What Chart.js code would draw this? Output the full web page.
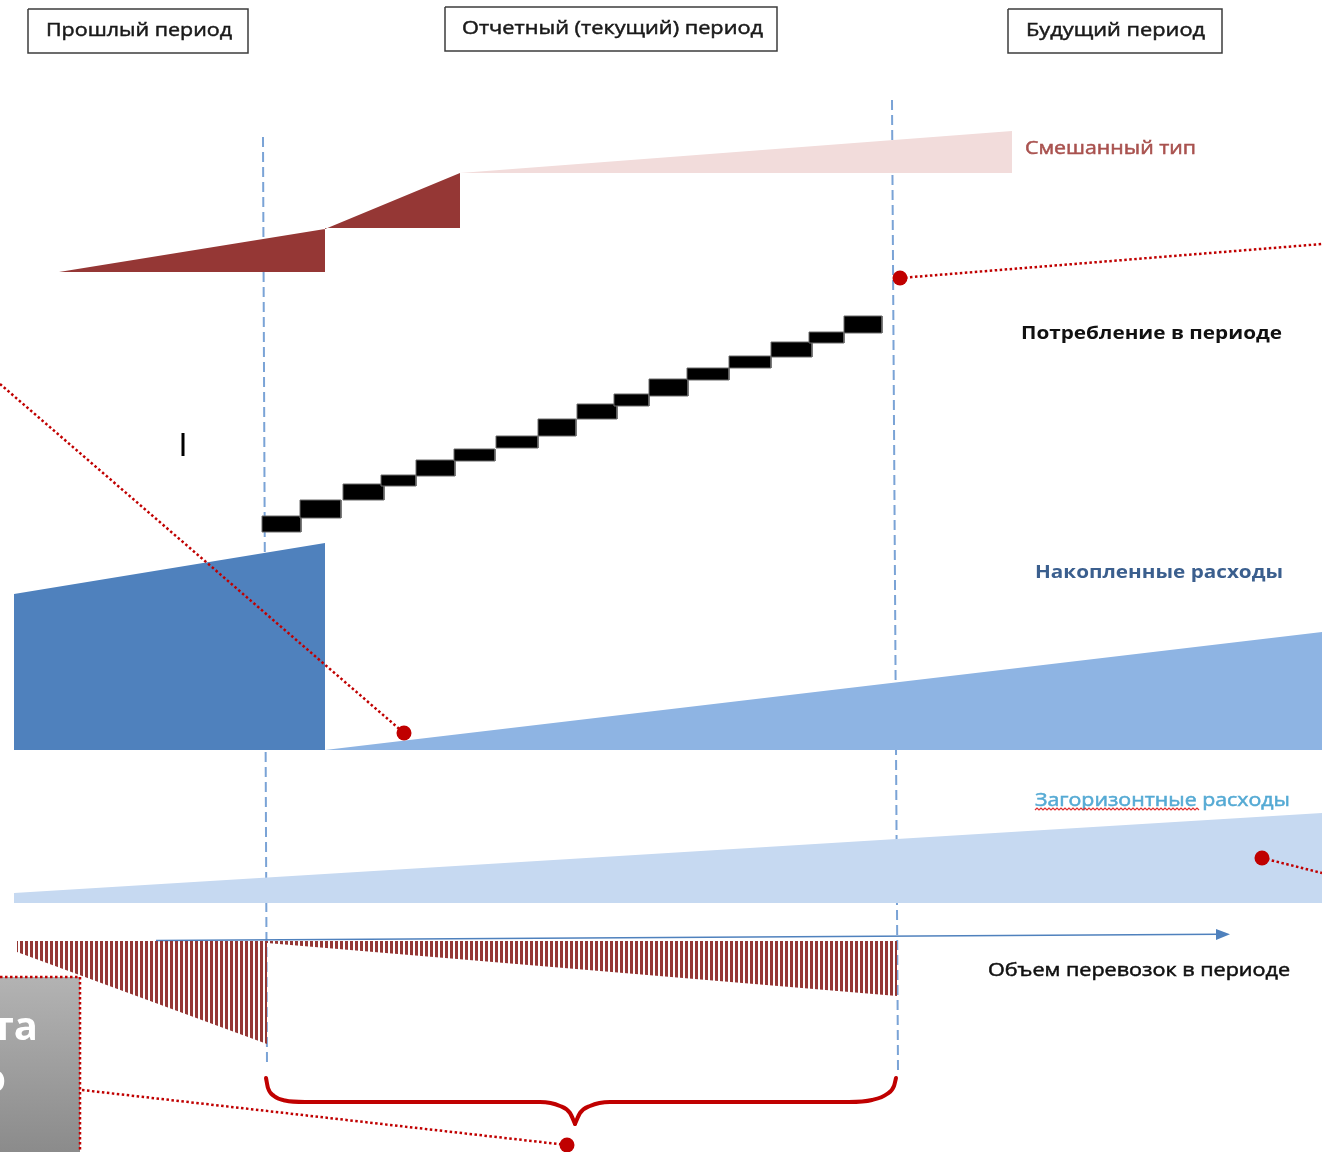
<!DOCTYPE html>
<html lang="ru">
<head>
<meta charset="utf-8">
<title>Периоды учета расходов</title>
<script src="https://cdn.jsdelivr.net/npm/chart.js@4.4.1/dist/chart.umd.min.js"></script>
<style>
  html, body { margin: 0; padding: 0; background: #fff; }
  canvas { display: block; }
</style>
</head>
<body>
<canvas id="periodChart" width="1322" height="1152"></canvas>
<script>
// Sheet units: x runs along the timeline, y runs down the sheet (0 at top)
const X_MAX = 1322;
const Y_MAX = 1152;

// Period boundaries (dashed verticals)
const pastBoundary = [[263, 137], [267, 1065]];
const futureBoundary = [[892, 100], [898, 1070]];

// Mixed type: past part (dark) and future part (pale)
const mixedPast = [[59, 272], [325, 229], [460, 173], [460, 228], [325, 228], [325, 272]];
const mixedFuture = [[460, 173], [1012, 131], [1012, 173]];

// Consumption in the period, one block per step
const stepLeft   = [262, 300, 343, 381, 416, 454, 496, 538, 577, 614, 649, 687, 729, 771, 809, 844];
const stepRight  = [301, 341, 384, 416, 455, 495, 538, 576, 617, 649, 688, 729, 771, 812, 844, 882];
const stepTop    = [516, 500, 484, 475, 460, 449, 436, 419, 404, 394, 379, 368, 356, 342, 332, 316];
const stepBottom = [532, 518, 500, 486, 476, 461, 448, 436, 419, 406, 396, 380, 368, 357, 343, 333];

// Accumulated expenses
const accumPast = [[14, 594], [325, 543], [325, 750], [14, 750]];
const accumFuture = [[325, 750], [1322, 632], [1322, 750]];

// Beyond-horizon expenses
const beyondHorizon = [[14, 893], [1322, 813], [1322, 903], [14, 903]];

// Transport volume (hatched) and its axis
const volumePast = [[17, 941], [267, 941], [267, 1044], [17, 952]];
const volumeCurrent = [[267, 941], [897, 941], [897, 996], [267, 943]];
const volumeAxis = [[156, 940.5], [1218, 934.3]];
const volumeArrow = [[1230, 934.2], [1216, 929], [1216, 940]];

// Brace under the reporting period
const braceLeft = [[266, 1078], [268, 1088], [274, 1096], [285, 1100.5], [305, 1102], [540, 1102],
  [560, 1106], [570, 1113], [575, 1124]];
const braceRight = [[575, 1124], [580, 1113], [590, 1106], [610, 1102], [849, 1102], [872, 1100],
  [887, 1094], [894, 1086], [896, 1078]];

// Callout leaders and their end dots
const leaders = [
  [[0, 384], [404, 733]],
  [[900, 278], [1322, 244]],
  [[1262, 858], [1322, 873]],
  [[82, 1090], [567, 1145]]
];
const leaderDots = [[404, 733], [900, 278], [1262, 858], [567, 1145]];

// Side note panel (mostly off the sheet)
const notePanel = [[-5, 977], [80, 977], [80, 1160], [-5, 1160]];
const notePanelEdge = [[-5, 977], [80, 977], [80, 1160]];

const cursorMark = [[183, 433], [183, 456]];

// Period header frames
const headerPast = [[28, 9], [248, 9], [248, 53], [28, 53]];
const headerCurrent = [[445, 7], [777, 7], [777, 51], [445, 51]];
const headerFuture = [[1008, 9], [1222, 9], [1222, 53], [1008, 53]];

const sheetLabels = [
  { text: 'Прошлый период', x: 46, y: 36, w: 186, size: 19, color: '#1a1a1a' },
  { text: 'Отчетный (текущий) период', x: 462, y: 34, w: 301, size: 19, color: '#1a1a1a' },
  { text: 'Будущий период', x: 1026, y: 36, w: 179, size: 19, color: '#1a1a1a' },
  { text: 'Смешанный тип', x: 1025, y: 154, w: 171, size: 18, color: '#a9524f' },
  { text: 'Потребление в периоде', x: 1021, y: 339, w: 261, size: 18, weight: 'bold', color: '#111111' },
  { text: 'Накопленные расходы', x: 1035, y: 578, w: 248, size: 18, weight: 'bold', color: '#3b5f8e' },
  { text: 'Загоризонтные расходы', x: 1035, y: 806, w: 255, size: 18, color: '#55aad4' },
  { text: 'Объем перевозок в периоде', x: 988, y: 976, w: 302, size: 18, color: '#111111' },
  { text: 'ета', x: 38, y: 1040, size: 40, weight: 'bold', color: '#ffffff', align: 'right' },
  { text: 'о', x: 6, y: 1092, size: 40, weight: 'bold', color: '#ffffff', align: 'right' }
];
const squiggle = { from: 1035, to: 1199, y: 810 };

const canvas = document.getElementById('periodChart');
const mainCtx = canvas.getContext('2d');

const pts = arr => arr.map(([x, y]) => ({ x, y }));
const closed = arr => pts([...arr, arr[0]]);

function area(data, color) {
  return { data: pts(data), backgroundColor: color, borderWidth: 0, fill: 'shape', pointRadius: 0 };
}
function stroke(data, color, width, dash) {
  return { data, borderColor: color, borderWidth: width, borderDash: dash || [], fill: false, pointRadius: 0 };
}

function hatch(color) {
  const c = document.createElement('canvas');
  c.width = 5; c.height = 8;
  const g = c.getContext('2d');
  g.fillStyle = color;
  g.fillRect(0, 0, 3, 8);
  return mainCtx.createPattern(c, 'repeat');
}

// layers listed back to front
const layers = [];
layers.push(stroke(pts(pastBoundary), '#7aa3d6', 2, [10, 5]));
layers.push(stroke(pts(futureBoundary), '#7aa3d6', 2, [10, 5]));
layers.push(stroke(pts(volumeAxis), '#4f81bd', 1.5));
layers.push(area(volumeArrow, '#4f81bd'));
layers.push(area(beyondHorizon, '#c6d9f1'));
layers.push(area(accumFuture, '#8eb4e3'));
layers.push(area(accumPast, '#4f81bd'));
layers.push(area(volumePast, hatch('#953735')));
layers.push(area(volumeCurrent, hatch('#953735')));
layers.push(area(mixedFuture, '#f2dcdb'));
layers.push(area(mixedPast, '#953735'));
stepLeft.forEach((x0, i) => {
  const x1 = stepRight[i], y0 = stepTop[i], y1 = stepBottom[i];
  layers.push({
    data: closed([[x0, y0], [x1, y0], [x1, y1], [x0, y1]]),
    backgroundColor: '#000000', borderColor: '#6b6b6b', borderWidth: 1, fill: 'shape', pointRadius: 0
  });
});
layers.push(stroke(pts(cursorMark), '#000000', 3));
layers.push({
  data: pts(notePanel),
  fill: 'shape', borderWidth: 0, pointRadius: 0,
  backgroundColor: ctx => {
    const { chart } = ctx;
    if (!chart.chartArea) return '#a0a0a0';
    const ys = chart.scales.y;
    const g = chart.ctx.createLinearGradient(0, ys.getPixelForValue(977), 0, ys.getPixelForValue(Y_MAX));
    g.addColorStop(0, '#b3b3b3');
    g.addColorStop(1, '#8b8b8b');
    return g;
  }
});
layers.push(stroke(pts(notePanelEdge), '#c00000', 2.5, [2.5, 2.5]));
leaders.forEach(l => layers.push(stroke(pts(l), '#c00000', 2.5, [2.5, 2.5])));
layers.push({
  data: pts(leaderDots), showLine: false,
  pointRadius: 7.5, pointBackgroundColor: '#c00000', pointBorderWidth: 0
});
[braceLeft, braceRight].forEach(b => layers.push({
  ...stroke(pts(b), '#c00000', 4),
  cubicInterpolationMode: 'monotone', borderCapStyle: 'round'
}));
[headerPast, headerCurrent, headerFuture].forEach(h => layers.push(stroke(closed(h), '#3c3c3c', 1.5)));

// first dataset is painted last, so give the back layers the highest order
layers.forEach((ds, i) => { ds.order = layers.length - i; });

const sheetText = {
  id: 'sheetText',
  afterDatasetsDraw(chart) {
    const { ctx, scales: { x, y } } = chart;
    sheetLabels.forEach(t => {
      ctx.save();
      ctx.font = `${t.weight || 'normal'} ${t.size}px "Open Sans", sans-serif`;
      ctx.fillStyle = t.color;
      ctx.strokeStyle = t.color;
      ctx.lineWidth = 0.5;
      ctx.textBaseline = 'alphabetic';
      const px = x.getPixelForValue(t.x);
      const py = y.getPixelForValue(t.y);
      if (t.align === 'right') {
        ctx.textAlign = 'right';
        ctx.fillText(t.text, px, py);
      } else {
        const w = ctx.measureText(t.text).width;
        const target = x.getPixelForValue(t.x + t.w) - px;
        ctx.translate(px, py);
        ctx.scale(target / w, 1);
        ctx.textAlign = 'left';
        ctx.fillText(t.text, 0, 0);
        // normal-weight labels get a hairline stroke to look a bit heavier
        if (!t.weight) ctx.strokeText(t.text, 0, 0);
      }
      ctx.restore();
    });

    // spell-check squiggle under the first word
    const x0 = x.getPixelForValue(squiggle.from);
    const x1 = x.getPixelForValue(squiggle.to);
    const sy = y.getPixelForValue(squiggle.y);
    ctx.save();
    ctx.strokeStyle = '#e03030';
    ctx.lineWidth = 1.2;
    ctx.beginPath();
    ctx.moveTo(x0, sy);
    let up = true;
    for (let px = x0 + 2; px <= x1; px += 2) {
      ctx.lineTo(px, sy + (up ? -2 : 0));
      up = !up;
    }
    ctx.stroke();
    ctx.restore();
  }
};

new Chart(canvas, {
  type: 'line',
  data: { datasets: layers },
  options: {
    responsive: false,
    animation: false,
    devicePixelRatio: 1,
    layout: { padding: 0, autoPadding: false },
    elements: { point: { radius: 0 }, line: { tension: 0 } },
    scales: {
      x: { type: 'linear', min: 0, max: X_MAX, display: false },
      y: { type: 'linear', min: 0, max: Y_MAX, reverse: true, display: false }
    },
    plugins: {
      legend: { display: false },
      tooltip: { enabled: false }
    }
  },
  plugins: [sheetText]
});
</script>
</body>
</html>
